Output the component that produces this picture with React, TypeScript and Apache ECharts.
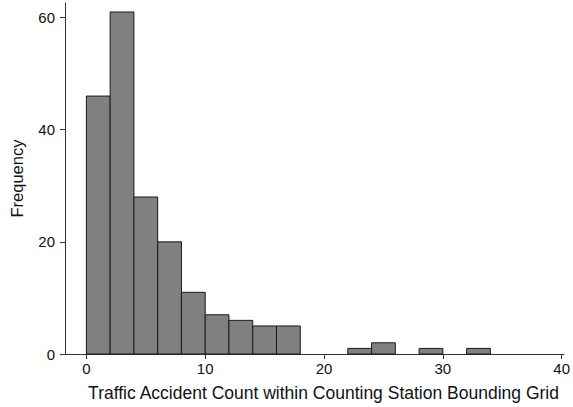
import React, { useEffect, useRef } from "react";
import * as echarts from "echarts";

const binStarts = [0, 2, 4, 6, 8, 10, 12, 14, 16, 22, 24, 28, 32];
const binWidth = 2;
const counts = [46, 61, 28, 20, 11, 7, 6, 5, 5, 1, 2, 1, 1];
const xTicks = [0, 10, 20, 30, 40];
const yTicks = [0, 20, 40, 60];

export default function App() {
  const ref = useRef<HTMLDivElement>(null);
  useEffect(() => {
    const chart = echarts.init(ref.current!, null, { renderer: "svg" });
    const font = "'Liberation Sans', Arial, Helvetica, sans-serif";
    chart.setOption({
      animation: false,
      backgroundColor: "#ffffff",
      grid: { left: 65, width: 500, top: 3, height: 353 },
      xAxis: {
        type: "value",
        min: -1.8,
        max: 40.2,
        splitLine: { show: false },
        axisLine: { show: true, onZero: false, lineStyle: { color: "#333", width: 1 } },
        axisTick: { show: true, length: 5, customValues: xTicks, lineStyle: { color: "#333" } },
        axisLabel: { customValues: xTicks, margin: 7, color: "#111", fontSize: 15, fontFamily: font },
        name: "Traffic Accident Count within Counting Station Bounding Grid",
        nameLocation: "middle",
        nameGap: 30,
        nameTextStyle: { color: "#111", fontSize: 17.5, fontFamily: font, padding: [0, 0, 0, 18] },
      },
      yAxis: {
        type: "value",
        min: 0,
        max: 62.6,
        splitLine: { show: false },
        axisLine: { show: true, onZero: false, lineStyle: { color: "#333", width: 1 } },
        axisTick: { show: true, length: 5, customValues: yTicks, lineStyle: { color: "#333" } },
        axisLabel: { customValues: yTicks, margin: 10, color: "#111", fontSize: 15, fontFamily: font },
        name: "Frequency",
        nameLocation: "middle",
        nameGap: 40,
        nameTextStyle: { color: "#111", fontSize: 16.5, fontFamily: font },
      },
      series: [
        {
          type: "custom",
          data: binStarts.map((s, i) => [s, s + binWidth, counts[i]]),
          encode: { x: [0, 1], y: 2 },
          renderItem: (params: any, api: any) => {
            const p0 = api.coord([api.value(0), api.value(2)]);
            const p1 = api.coord([api.value(1), 0]);
            return {
              type: "rect",
              shape: { x: p0[0], y: p0[1], width: p1[0] - p0[0], height: p1[1] - p0[1] },
              style: { fill: "#808080", stroke: "#1a1a1a", lineWidth: 1 },
            };
          },
        },
      ],
    });
    return () => chart.dispose();
  }, []);
  return (
    <div
      ref={ref}
      style={{ position: "fixed", left: 0, top: 0, width: 573, height: 407 }}
    />
  );
}
